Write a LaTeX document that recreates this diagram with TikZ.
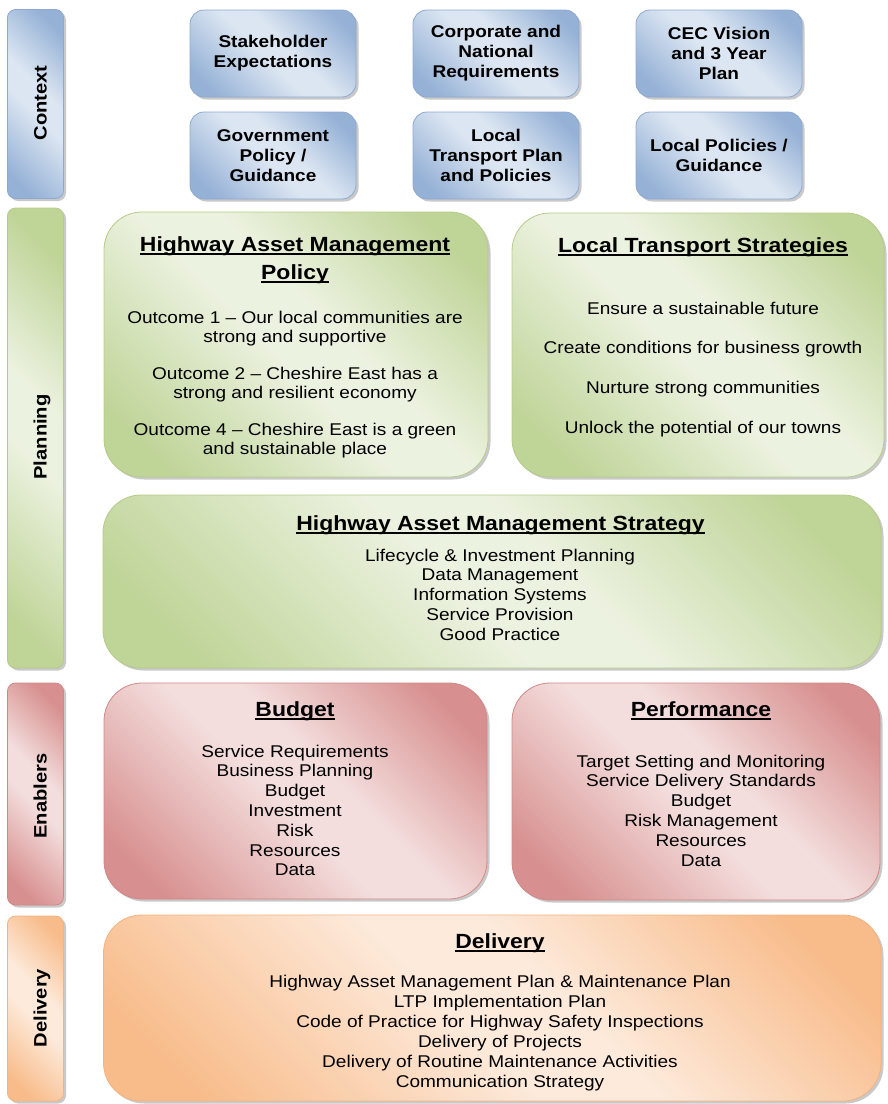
\documentclass[tikz,border=0pt]{standalone}
\usepackage{fontspec}
\setmainfont[FakeStretch=1.12]{Liberation Sans}
\usepackage{xcolor}
\usepackage{tikz}
\usetikzlibrary{shadows}
\definecolor{bluedk}{HTML}{95B1D6}
\definecolor{bluelt}{HTML}{DCE6F2}
\definecolor{bluebd}{HTML}{8DA9D1}
\definecolor{grndk}{HTML}{BFD497}
\definecolor{grnlt}{HTML}{ECF2E0}
\definecolor{grnbd}{HTML}{B5CB88}
\definecolor{reddk}{HTML}{D7908F}
\definecolor{redlt}{HTML}{F3DEDD}
\definecolor{redbd}{HTML}{D08887}
\definecolor{orgdk}{HTML}{F8BC8B}
\definecolor{orglt}{HTML}{FDEADB}
\definecolor{orgbd}{HTML}{F4B27F}
\pgfdeclarehorizontalshading{blueshade}{100bp}{color(0bp)=(bluedk); color(22bp)=(bluedk); color(47bp)=(bluelt); color(56bp)=(bluelt); color(78bp)=(bluedk); color(100bp)=(bluedk)}
\pgfdeclarehorizontalshading{grnshade}{100bp}{color(0bp)=(grndk); color(22bp)=(grndk); color(47bp)=(grnlt); color(56bp)=(grnlt); color(78bp)=(grndk); color(100bp)=(grndk)}
\pgfdeclarehorizontalshading{redshade}{100bp}{color(0bp)=(reddk); color(22bp)=(reddk); color(47bp)=(redlt); color(56bp)=(redlt); color(78bp)=(reddk); color(100bp)=(reddk)}
\pgfdeclarehorizontalshading{orgshade}{100bp}{color(0bp)=(orgdk); color(22bp)=(orgdk); color(47bp)=(orglt); color(56bp)=(orglt); color(78bp)=(orgdk); color(100bp)=(orgdk)}
\newcommand\hdline[1]{\setbox0\hbox{#1}\rlap{\rule[-3.6pt]{\wd0}{1.7pt}}\box0}
\tikzset{
  shad/.style={drop shadow={shadow xshift=2.5pt, shadow yshift=-2.5pt, opacity=0.3, fill=black!70}},
  fillof/.style={draw=#1bd, line width=0.8pt, shading=#1shade, shading angle=45},
  bar/.style={fillof=#1, shad, rounded corners=8pt, minimum width=56pt, inner sep=0pt},
  ctxbox/.style={fillof=blue, shad, rounded corners=14pt, minimum width=166pt, minimum height=87pt,
    inner sep=0pt, align=center, font=\fontsize{17}{20}\selectfont\bfseries},
  bigbox/.style={fillof=#1, shad, rounded corners=38pt, inner sep=0pt},
  sidelab/.style={rotate=90, anchor=base, font=\fontsize{18}{20}\selectfont\bfseries},
  hd/.style={anchor=base, font=\fontsize{20.5}{24}\selectfont\bfseries},
  txt/.style={anchor=base, font=\fontsize{17}{20}\selectfont},
}
\begin{document}
\begin{tikzpicture}[x=1pt, y=-1pt]
  \useasboundingbox (0,0) rectangle (887,1104);
  % side bars
  \node[bar=blue, minimum height=189pt] (ctxbar) at (35.5,104) {};
  \node[bar=grn, minimum height=460pt] (planbar) at (35.5,438) {};
  \node[bar=red, minimum height=222pt] (enabar) at (35.5,794) {};
  \node[bar=org, minimum height=185pt] (delbar) at (35.5,1008.5) {};
  \node[sidelab] (ctxlab) at (46.5,103) {Context};
  \node[sidelab] (planlab) at (46.5,437) {Planning};
  \node[sidelab] (enalab) at (46.5,796) {Enablers};
  \node[sidelab] (dellab) at (46.5,1008) {Delivery};
  % context
  \node[ctxbox] (stake) at (273,53.5) {Stakeholder\\Expectations};
  \node[ctxbox] (corp) at (496,53.5) {Corporate and\\National\\Requirements};
  \node[ctxbox] (cec) at (719,53.5) {CEC Vision\\and 3 Year\\Plan};
  \node[ctxbox] (gov) at (273,155.5) {Government\\Policy /\\Guidance};
  \node[ctxbox] (ltp) at (496,155.5) {Local\\Transport Plan\\and Policies};
  \node[ctxbox] (locpol) at (719,155.5) {Local Policies /\\Guidance};
  % planning
  \node[bigbox=grn, minimum width=384pt, minimum height=265pt] (hamp) at (296,344.5) {};
  \node[hd] (hampT1) at (295,251) {\hdline{Highway Asset Management}};
  \node[hd] (hampT2) at (295,279) {\hdline{Policy}};
  \foreach \t/\yy [count=\i] in {Outcome 1 -- Our local communities are/323, strong and supportive/342.5,
      Outcome 2 -- Cheshire East has a/379, strong and resilient economy/398.5,
      Outcome 4 -- Cheshire East is a green/435, and sustainable place/454.5}
    \node[txt] (hamp\i) at (295,\yy) {\t};
  \node[bigbox=grn, minimum width=372pt, minimum height=264pt] (lts) at (698,345) {};
  \node[hd] (ltsT) at (703,252) {\hdline{Local Transport Strategies}};
  \foreach \t [count=\i] in {Ensure a sustainable future, Create conditions for business growth,
      Nurture strong communities, Unlock the potential of our towns}
    \node[txt] (lts\i) at (703,{314+39.8*(\i-1)}) {\t};
  \node[bigbox=grn, minimum width=778pt, minimum height=173pt] (hams) at (492,581.5) {};
  \node[hd] (hamsT) at (500.5,530) {\hdline{Highway Asset Management Strategy}};
  \foreach \t [count=\i] in {Lifecycle \& Investment Planning, Data Management, Information Systems,
      Service Provision, Good Practice}
    \node[txt] (hams\i) at (500,{561+19.8*(\i-1)}) {\t};
  % enablers
  \node[bigbox=red, minimum width=383pt, minimum height=216pt] (bud) at (295.5,791) {};
  \node[hd] (budT) at (295,716) {\hdline{Budget}};
  \foreach \t [count=\i] in {Service Requirements, Business Planning, Budget, Investment, Risk,
      Resources, Data}
    \node[txt] (bud\i) at (295,{757+19.8*(\i-1)}) {\t};
  \node[bigbox=red, minimum width=368pt, minimum height=217pt] (perf) at (696,791.5) {};
  \node[hd] (perfT) at (701,716) {\hdline{Performance}};
  \foreach \t [count=\i] in {Target Setting and Monitoring, Service Delivery Standards, Budget,
      Risk Management, Resources, Data}
    \node[txt] (perf\i) at (701,{767+19.8*(\i-1)}) {\t};
  % delivery
  \node[bigbox=org, minimum width=777.5pt, minimum height=186pt] (del) at (492.25,1008) {};
  \node[hd] (delT) at (500,948) {\hdline{Delivery}};
  \foreach \t [count=\i] in {Highway Asset Management Plan \& Maintenance Plan, LTP Implementation Plan,
      Code of Practice for Highway Safety Inspections, Delivery of Projects,
      Delivery of Routine Maintenance Activities, Communication Strategy}
    \node[txt] (del\i) at (500,{987.5+19.9*(\i-1)}) {\t};
\end{tikzpicture}
\end{document}
